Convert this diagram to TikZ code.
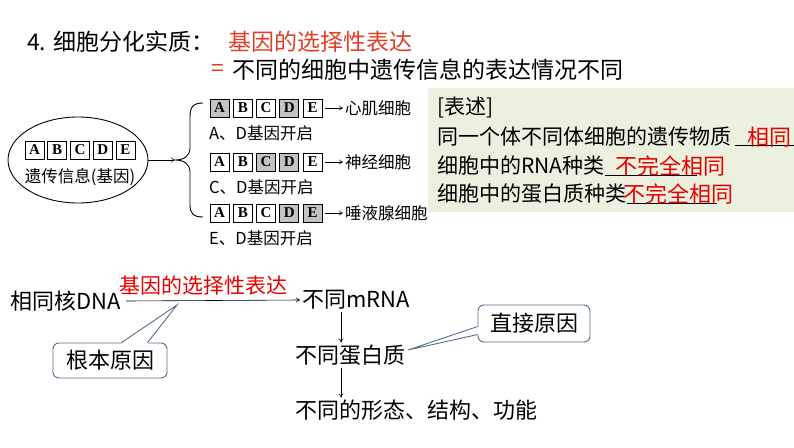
\documentclass[tikz,border=0pt]{standalone}
\usepackage{fontspec}
\setmainfont{Liberation Serif}
\newfontfamily\cjk{Noto Sans CJK SC}
\usetikzlibrary{shapes.geometric,arrows.meta,calc}
\definecolor{gboxfill}{RGB}{235,241,222}
\definecolor{titlered}{RGB}{226,62,38}
\definecolor{ansred}{RGB}{232,0,0}
\definecolor{callcol}{RGB}{84,110,140}
\definecolor{gshade}{RGB}{195,195,195}
\begin{document}
\begin{tikzpicture}[x=1pt,y=-1pt,
  every node/.style={inner sep=2pt},
  arr/.style={-{To[length=4pt,width=5pt]}, line width=0.6pt},
  lbox/.style={draw, line width=0.9pt, minimum width=19pt, minimum height=18pt, inner sep=0pt, font=\fontsize{15}{15}\selectfont\bfseries},
  shd/.style={lbox, fill=gshade},
  imgtxt/.style={anchor=west, font=\cjk\fontsize{16.5}{16.5}\selectfont},
  ttl/.style={anchor=west, font=\cjk\fontsize{23}{23}\selectfont},
  gtxt/.style={anchor=west, font=\cjk\fontsize{21}{21}\selectfont},
  ans/.style={anchor=west, text=ansred, font=\cjk\fontsize{22}{22}\selectfont},
  flow/.style={anchor=west, font=\cjk\fontsize{22}{22}\selectfont},
  callout/.style={draw=callcol, line width=0.9pt, rounded corners=6pt, fill=white, font=\cjk\fontsize{22}{22}\selectfont, inner sep=0pt},
  uline/.style={line width=0.8pt}
]
\useasboundingbox (0,0) rectangle (794,447);
\fill[white] (0,0) rectangle (794,447);

% ---- title ----
\node[ttl] (t1) at (25,42) {4. 细胞分化实质：};
\node[ttl, text=titlered] (t2) at (226,42) {基因的选择性表达};
\node[ttl, text=titlered] (eq) at (209,70) {=};
\node[ttl] (t3) at (230,70) {不同的细胞中遗传信息的表达情况不同};

% ---- left picture ----
\node[draw, ellipse, line width=0.9pt, minimum width=140pt, minimum height=86pt] (ell) at (78,160) {};
\node[lbox] (eA) at (34.5,150) {A};
\node[lbox] (eB) at (57.25,150) {B};
\node[lbox] (eC) at (80,150) {C};
\node[lbox] (eD) at (102.75,150) {D};
\node[lbox] (eE) at (125.5,150) {E};
\node[font=\cjk\fontsize{16.5}{16.5}\selectfont] (einfo) at (80,177) {遗传信息(基因)};

\coordinate (brTop) at (203,103);
\coordinate (brBot) at (203,217);
\coordinate (brTip) at (175,160);
\draw[line width=0.9pt] (brTop) .. controls (193,103) and (190,107) .. (190,117) -- (190,148)
  .. controls (190,156) and (184,160) .. (brTip)
  .. controls (184,160) and (190,164) .. (190,172) -- (190,205)
  .. controls (190,213) and (193,217) .. (brBot);
\draw[arr] (ell.east) -- (brTip);

% row 1
\node[shd] (aA) at (219.5,108) {A};
\node[lbox] (aB) at (242.75,108) {B};
\node[lbox] (aC) at (266,108) {C};
\node[shd] (aD) at (289.25,108) {D};
\node[lbox] (aE) at (312.5,108) {E};
\node[imgtxt] (c1) at (343,108) {心肌细胞};
\draw[arr] ([xshift=3pt]aE.east) -- (c1.west);
\node[imgtxt] (l1) at (207,133) {A、D基因开启};
% row 2
\node[lbox] (bA) at (219.5,162) {A};
\node[lbox] (bB) at (242.75,162) {B};
\node[shd] (bC) at (266,162) {C};
\node[shd] (bD) at (289.25,162) {D};
\node[lbox] (bE) at (312.5,162) {E};
\node[imgtxt] (c2) at (343,162) {神经细胞};
\draw[arr] ([xshift=3pt]bE.east) -- (c2.west);
\node[imgtxt] (l2) at (207,187) {C、D基因开启};
% row 3
\node[lbox] (dA) at (219.5,213) {A};
\node[lbox] (dB) at (242.75,213) {B};
\node[lbox] (dC) at (266,213) {C};
\node[shd] (dD) at (289.25,213) {D};
\node[shd] (dE) at (312.5,213) {E};
\node[imgtxt] (c3) at (343,213) {唾液腺细胞};
\draw[arr] ([xshift=3pt]dE.east) -- (c3.west);
\node[imgtxt] (l3) at (207,238) {E、D基因开启};

% ---- green box ----
\fill[gboxfill] (428,88) rectangle (794,212);
\node[gtxt] (g0) at (435,107) {[表述]};
\node[gtxt] (g1) at (435,137) {同一个体不同体细胞的遗传物质};
\node[gtxt] (g2) at (435,166) {细胞中的RNA种类};
\node[gtxt] (g3) at (435,194) {细胞中的蛋白质种类};
\coordinate (u1a) at (735,145); \coordinate (u1b) at (794,145);
\coordinate (u2a) at (605,175); \coordinate (u2b) at (697,175);
\coordinate (u3a) at (627,203); \coordinate (u3b) at (717,203);
\draw[uline] (u1a) -- (u1b);
\draw[uline] (u2a) -- (u2b);
\draw[uline] (u3a) -- (u3b);
\node[ans] (a1) at (745,137) {相同};
\node[ans] (a2) at (613,166) {不完全相同};
\node[ans] (a3) at (621,194) {不完全相同};

% ---- bottom flow ----
\node[flow] (dna) at (8,301) {相同核DNA};
\node[flow] (mrna) at (300,300) {不同mRNA};
\node[flow] (prot) at (293,355) {不同蛋白质};
\node[flow] (trait) at (293,410) {不同的形态、结构、功能};
\draw[arr] ([xshift=3pt]dna.east) -- (mrna.west);
\node[text=ansred, font=\cjk\fontsize{21}{21}\selectfont, inner sep=0pt] (sel) at (203,285) {基因的选择性表达};
\coordinate (ax) at (341,0);
\draw[arr] (mrna.south -| ax) -- (prot.north -| ax);
\draw[arr] (prot.south -| ax) -- (trait.north -| ax);

% callouts
\node[callout, minimum width=114pt, minimum height=35pt] (root) at (110,360.5) {根本原因};
\coordinate (rootTip) at (177,305);
\coordinate (rb1) at ([xshift=69pt]root.north west);
\coordinate (rb2) at ([xshift=95pt]root.north west);
\fill[white] ([yshift=-1.2pt]rb1) -- (rootTip) -- ([yshift=-1.2pt]rb2) -- cycle;
\draw[callcol, line width=0.9pt] (rb1) -- (rootTip) -- (rb2);

\node[callout, minimum width=112pt, minimum height=37pt] (direct) at (534,323.5) {直接原因};
\coordinate (dirTip) at (408,350);
\coordinate (db1) at ([yshift=-22pt]direct.north west);
\coordinate (db2) at ([yshift=-30pt]direct.north west);
\fill[white] ([xshift=1.2pt]db1) -- (dirTip) -- ([xshift=1.2pt]db2) -- cycle;
\draw[callcol, line width=0.9pt] (db1) -- (dirTip) -- (db2);
\end{tikzpicture}
\end{document}
